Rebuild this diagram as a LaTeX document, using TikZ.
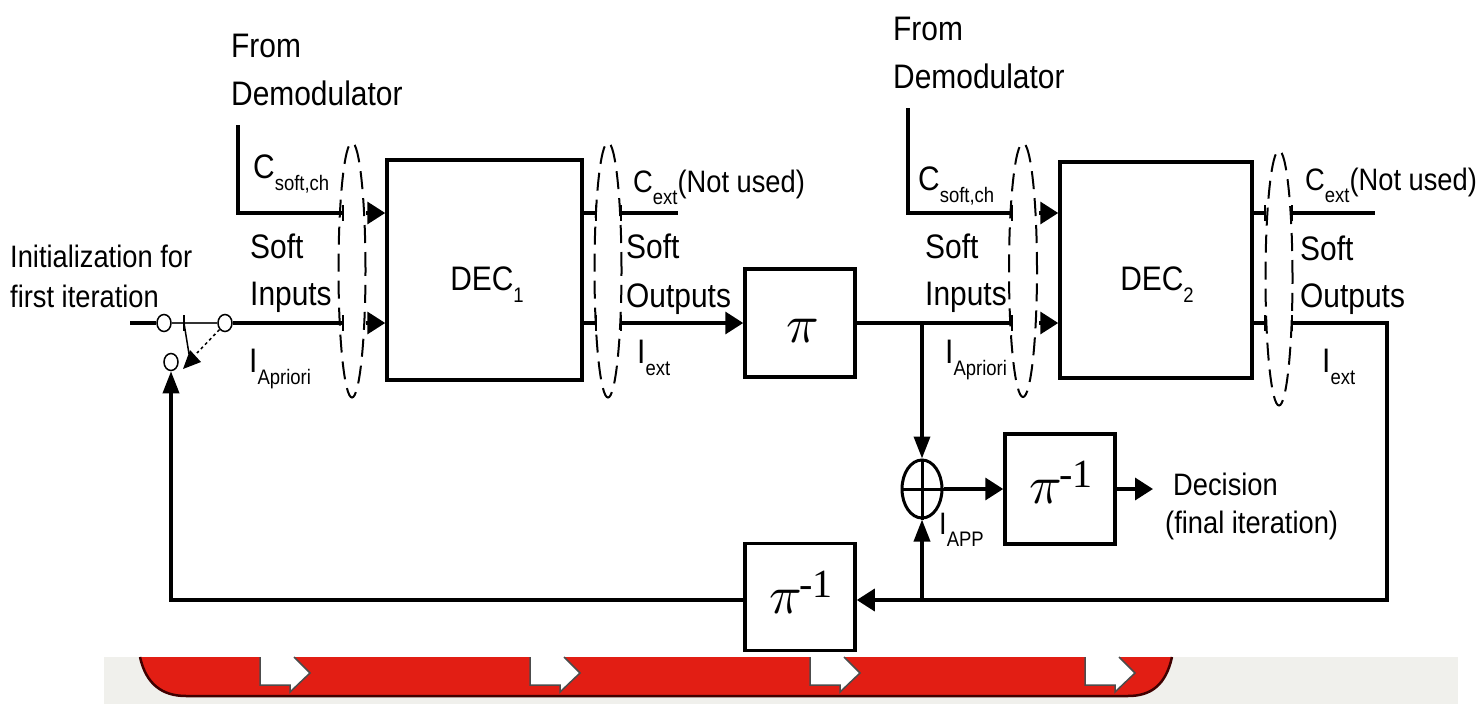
\documentclass[tikz,border=0pt]{standalone}
\usepackage[no-math]{fontspec}
\usepackage{graphicx}
\setmainfont{Liberation Sans}[FakeStretch=0.88]
\newfontfamily\serifsup{Liberation Serif}
\usetikzlibrary{arrows.meta,shapes.geometric}
\definecolor{bandred}{RGB}{226,30,20}
\definecolor{bandgray}{RGB}{240,240,236}
\newcommand\mysub[1]{\raisebox{-12pt}{\fontsize{21}{21}\selectfont #1}}
\newcommand\bigpi{\scalebox{5.4}{$\pi$}}
\newcommand\invsup{\kern-3pt\raisebox{16pt}{\serifsup\fontsize{40}{40}\selectfont -1}}
\begin{document}
\begin{tikzpicture}[x=1pt,y=-1pt,line join=miter,
  box/.style={draw,line width=3.5pt,inner sep=0,rectangle},
  wire/.style={line width=3.5pt},
  thinw/.style={line width=1.5pt},
  arrH/.style={-{Triangle[length=18pt,width=22pt]}},
  arrV/.style={-{Triangle[length=22pt,width=16pt]}},
  lbl/.style={inner sep=0,anchor=base west,font=\fontsize{34}{40}\selectfont},
  slbl/.style={inner sep=0,anchor=base west,font=\fontsize{31}{36}\selectfont},
  dell/.style={draw,ellipse,dash pattern=on 18pt off 9pt,line width=2pt,inner sep=0},
  pin/.style={draw,ellipse,line width=1.5pt,fill=white,inner sep=0,minimum width=14pt,minimum height=17pt},
  pitxt/.style={inner sep=0}]
\useasboundingbox (0,0) rectangle (1484,704);

% bottom band
\fill[bandgray] (104,657) rectangle (1458,704);
\fill[bandred] (140,657) .. controls (146,684) and (162,696) .. (186,696) -- (1128,696) .. controls (1152,696) and (1166,684) .. (1172,657) -- cycle;
\draw[line width=2.5pt,black!75!red] (140,657) .. controls (146,684) and (162,696) .. (186,696) -- (1128,696) .. controls (1152,696) and (1166,684) .. (1172,657);
\foreach \x in {260,530,810,1085}{
  \fill[white] (\x,657) -- (\x,685) -- (\x+30,685) -- (\x+30,692) -- (\x+50,673) -- (\x+34,657) -- cycle;
  \draw[line width=1.5pt,black!70] (\x,657) -- (\x,685) -- (\x+30,685) -- (\x+30,692) -- (\x+50,673) -- (\x+34,657);
}

% blocks
\node[box,minimum width=195pt,minimum height=220pt] (dec1) at (484.5,270) {};
\node[box,minimum width=192pt,minimum height=216pt] (dec2) at (1156,270) {};
\node[box,minimum width=110pt,minimum height=108pt] (pi1) at (800,323) {};
\node[box,minimum width=110pt,minimum height=110pt] (pinv1) at (1060,489) {};
\node[box,minimum width=110pt,minimum height=107pt] (pinv2) at (800,597) {};
\node[pitxt,anchor=base] (tpi1) at (803,342) {\bigpi};
\node[pitxt,anchor=base] (tpinv1) at (1061,503) {\bigpi\invsup};
\node[pitxt,anchor=base] (tpinv2) at (801,613) {\bigpi\invsup};
\node[lbl,anchor=base] (tdec1) at (487,290) {DEC\mysub{1}};
\node[lbl,anchor=base] (tdec2) at (1157,290) {DEC\mysub{2}};

% dashed ellipses
\node[dell,minimum width=27pt,minimum height=255pt] (e1) at (352,270) {};
\node[dell,minimum width=27pt,minimum height=255pt] (e2) at (608,270) {};
\node[dell,minimum width=28pt,minimum height=254pt] (e3) at (1023,270) {};
\node[dell,minimum width=27pt,minimum height=255pt] (e4) at (1279,278) {};

% adder
\node[draw,ellipse,line width=3pt,minimum width=40pt,minimum height=58pt,inner sep=0] (add) at (922,489) {};
\draw[line width=3pt] (add.north) -- (add.south) (add.west) -- (add.east);

% switch
\node[pin] (sa) at (164,323) {};
\node[pin] (sb) at (225,323) {};
\node[pin] (sc) at (171,362) {};
\coordinate (inL) at (130,323);
\coordinate (piv) at (184,323);
\coordinate (armE) at (189,354);
\draw[wire] (inL) -- (sa.west);
\draw[thinw,black!80] (sa.east) -- (sb.west);
\draw[thinw] (184,315) -- (184,331);
\draw[thinw] (piv) -- (armE);
\draw[thinw,dash pattern=on 3pt off 3pt] (sb.south west) -- (197,353);
\fill (183,369) -- (201,362) -- (190,350) -- cycle;

% DEC1 inputs
\coordinate (dm1) at (238,125);
\coordinate (t1a) at (343,213);
\coordinate (t1b) at (343,323);
\coordinate (a1a) at (366,213);
\coordinate (a1b) at (366,323);
\draw[wire] (dm1) |- (t1a);
\draw[wire] (sb.east) -- (t1b);
\draw[thinw] (343,205) -- (343,221) (343,315) -- (343,331);
\draw[wire,arrH] (a1a) -- (dec1.west |- a1a);
\draw[wire,arrH] (a1b) -- (dec1.west |- a1b);

% DEC1 outputs
\coordinate (o1a) at (596,213);
\coordinate (o1b) at (596,323);
\coordinate (p1a) at (621,213);
\coordinate (p1b) at (621,323);
\coordinate (cx1) at (678,213);
\draw[wire] (dec1.east |- o1a) -- (o1a);
\draw[wire] (dec1.east |- o1b) -- (o1b);
\draw[thinw] (596,205) -- (596,221) (596,315) -- (596,331);
\draw[thinw] (621,205) -- (621,221) (621,315) -- (621,331);
\draw[wire] (p1a) -- (cx1);
\draw[wire,arrH] (p1b) -- (pi1.west |- p1b);

% DEC2 inputs
\coordinate (dm2) at (908,108);
\coordinate (t2a) at (1012,213);
\coordinate (t2b) at (1012,323);
\coordinate (a2a) at (1039,213);
\coordinate (a2b) at (1039,323);
\coordinate (j1) at (922,323);
\draw[wire] (dm2) |- (t2a);
\draw[wire] (pi1.east |- t2b) -- (t2b);
\draw[thinw] (1012,205) -- (1012,221) (1012,315) -- (1012,331);
\draw[wire,arrH] (a2a) -- (dec2.west |- a2a);
\draw[wire,arrH] (a2b) -- (dec2.west |- a2b);
\draw[wire,arrV] (j1) -- (add.north);

% DEC2 outputs
\coordinate (o2a) at (1265,213);
\coordinate (o2b) at (1265,323);
\coordinate (p2a) at (1292,213);
\coordinate (p2b) at (1292,323);
\coordinate (cx2) at (1375,213);
\coordinate (rc) at (1387,323);
\coordinate (rb) at (1387,600);
\coordinate (j2) at (922,600);
\coordinate (lb) at (171,600);
\draw[wire] (dec2.east |- o2a) -- (o2a);
\draw[wire] (dec2.east |- o2b) -- (o2b);
\draw[thinw] (1265,205) -- (1265,221) (1265,315) -- (1265,331);
\draw[thinw] (1292,205) -- (1292,221) (1292,315) -- (1292,331);
\draw[wire] (p2a) -- (cx2);
\draw[wire,arrH] (p2b) -- (rc) -- (rb) -- (pinv2.east |- rb);
\draw[wire,arrV] (j2) -- (add.south);
\draw[wire,arrV] (pinv2.west |- lb) -- (lb) -- (sc.south);

% adder to decision
\coordinate (decout) at (1153,489);
\draw[wire,arrH] (add.east) -- (pinv1.west);
\draw[wire,arrH] (pinv1.east) -- (decout);

% labels
\node[lbl] (tFrom1) at (231,57) {From};
\node[lbl] (tDem1) at (231,105) {Demodulator};
\node[lbl] (tC1) at (253,178) {C\mysub{soft,ch}};
\node[lbl] (tSoft1) at (250,258) {Soft};
\node[lbl] (tInp1) at (250,305) {Inputs};
\node[lbl] (tIa1) at (249,372) {I\mysub{Apriori}};
\node[slbl] (tCe1) at (633,192) {C\mysub{ext}(Not used)};
\node[lbl] (tSo1) at (626,258) {Soft};
\node[lbl] (tOut1) at (626,307) {Outputs};
\node[lbl] (tIe1) at (637,363) {I\mysub{ext}};

\node[lbl] (tFrom2) at (893,40) {From};
\node[lbl] (tDem2) at (893,88) {Demodulator};
\node[lbl] (tC2) at (918,190) {C\mysub{soft,ch}};
\node[lbl] (tSoft2) at (925,258) {Soft};
\node[lbl] (tInp2) at (925,305) {Inputs};
\node[lbl] (tIa2) at (945,363) {I\mysub{Apriori}};
\node[slbl] (tCe2) at (1305,190) {C\mysub{ext}(Not used)};
\node[lbl] (tSo2) at (1300,260) {Soft};
\node[lbl] (tOut2) at (1300,307) {Outputs};
\node[lbl] (tIe2) at (1322,372) {I\mysub{ext}};

\node[slbl] (tIapp) at (939,534) {I\mysub{APP}};
\node[slbl] (tDec) at (1173,495) {Decision};
\node[slbl] (tFin) at (1165,533) {(final iteration)};
\node[slbl] (tInit1) at (10,267) {Initialization for};
\node[slbl] (tInit2) at (10,307) {first iteration};
\end{tikzpicture}
\end{document}
